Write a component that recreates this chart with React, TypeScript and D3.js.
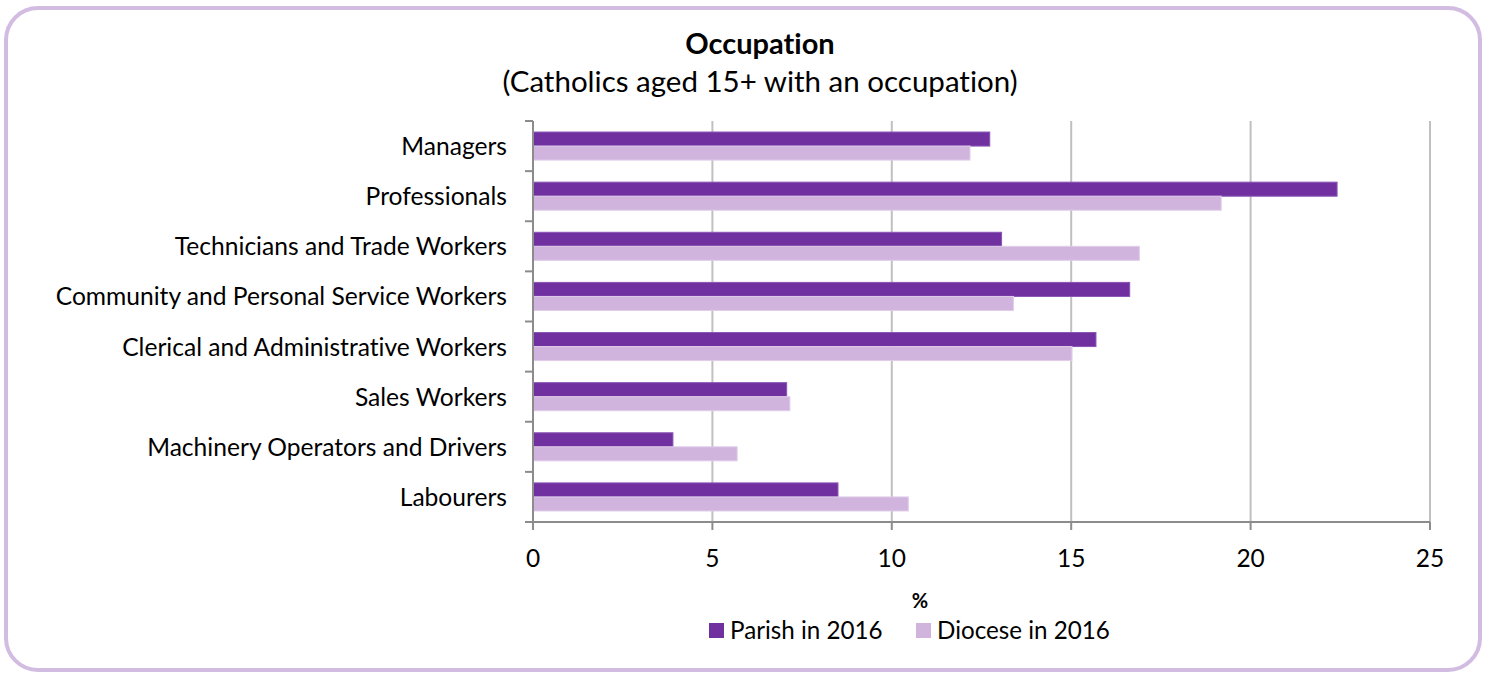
import React, { useRef, useEffect } from 'react'
import * as d3 from 'd3'

const categories = [
  'Managers',
  'Professionals',
  'Technicians and Trade Workers',
  'Community and Personal Service Workers',
  'Clerical and Administrative Workers',
  'Sales Workers',
  'Machinery Operators and Drivers',
  'Labourers',
]
const parish2016 = [12.73, 22.41, 13.06, 16.63, 15.69, 7.07, 3.9, 8.5]
const diocese2016 = [12.18, 19.18, 16.9, 13.39, 15.02, 7.16, 5.69, 10.46]
const xTicks = [0, 5, 10, 15, 20, 25]
const seriesNames = ['Parish in 2016', 'Diocese in 2016']

const W = 1486
const H = 675
const FONT = 'Lato, "Open Sans", sans-serif'
const PARISH = '#7030a0'
const DIOCESE = '#d0b4de'

const App = () => {
  const ref = useRef<SVGSVGElement>(null)

  useEffect(() => {
    const svg = d3.select(ref.current)
    svg.selectAll('*').remove()

    // outer rounded frame
    svg.append('rect')
      .attr('x', 6).attr('y', 8)
      .attr('width', 1474).attr('height', 662)
      .attr('rx', 32)
      .attr('fill', '#fff')
      .attr('stroke', '#d2bce2')
      .attr('stroke-width', 4)

    const left = 533, right = 1430, top = 121, bottom = 522

    const x = d3.scaleLinear().domain([0, 25]).range([left, right])
    const y = d3.scaleBand().domain(categories).range([top, bottom]).padding(0)

    const g = svg.append('g')

    // gridlines
    g.selectAll('.grid')
      .data(xTicks.slice(1))
      .enter().append('line')
      .attr('x1', d => x(d)).attr('x2', d => x(d))
      .attr('y1', top).attr('y2', bottom)
      .attr('stroke', '#c0c0c0').attr('stroke-width', 2)

    const bh = y.bandwidth() * 0.28
    const off = (y.bandwidth() - 2 * bh) / 2

    // bars
    const series = [
      { vals: parish2016, color: PARISH, stroke: '#8a55b5' },
      { vals: diocese2016, color: DIOCESE, stroke: '#e0cdea' },
    ]
    series.forEach((s, si) => {
      g.selectAll('.bar' + si)
        .data(categories)
        .enter().append('rect')
        .attr('x', x(0))
        .attr('y', d => (y(d) as number) + off + si * bh)
        .attr('width', (d, i) => x(s.vals[i]) - x(0))
        .attr('height', bh)
        .attr('fill', s.color)
        .attr('stroke', s.stroke)
        .attr('stroke-width', 1)
    })

    // y axis
    g.append('line')
      .attr('x1', left).attr('x2', left)
      .attr('y1', top).attr('y2', bottom + 8)
      .attr('stroke', '#8c8c8c').attr('stroke-width', 2)
    const bounds = categories.map(c => y(c) as number).concat([bottom])
    g.selectAll('.ytick')
      .data(bounds)
      .enter().append('line')
      .attr('x1', left - 8).attr('x2', left)
      .attr('y1', d => d).attr('y2', d => d)
      .attr('stroke', '#8c8c8c').attr('stroke-width', 2)

    // x axis
    g.append('line')
      .attr('x1', left - 8).attr('x2', right)
      .attr('y1', bottom).attr('y2', bottom)
      .attr('stroke', '#8c8c8c').attr('stroke-width', 2)
    g.selectAll('.xtick')
      .data(xTicks)
      .enter().append('line')
      .attr('x1', d => x(d)).attr('x2', d => x(d))
      .attr('y1', bottom).attr('y2', bottom + 8)
      .attr('stroke', '#8c8c8c').attr('stroke-width', 2)

    g.selectAll('.xlabel')
      .data(xTicks)
      .enter().append('text')
      .attr('x', d => x(d)).attr('y', 567)
      .attr('text-anchor', 'middle')
      .attr('font-family', FONT).attr('font-size', 24.5)
      .attr('fill', '#000')
      .text(d => d)

    g.selectAll('.ylabel')
      .data(categories)
      .enter().append('text')
      .attr('x', 507)
      .attr('y', d => (y(d) as number) + y.bandwidth() / 2 + 9)
      .attr('text-anchor', 'end')
      .attr('font-family', FONT).attr('font-size', 24.6)
      .attr('fill', '#000')
      .text(d => d)

    // titles
    svg.append('text')
      .attr('x', 760).attr('y', 54)
      .attr('text-anchor', 'middle')
      .attr('font-family', FONT).attr('font-size', 29).attr('font-weight', 'bold')
      .text('Occupation')
    svg.append('text')
      .attr('x', 760).attr('y', 92)
      .attr('text-anchor', 'middle')
      .attr('font-family', FONT).attr('font-size', 29.5)
      .text('(Catholics aged 15+ with an occupation)')

    svg.append('text')
      .attr('x', 920).attr('y', 608)
      .attr('text-anchor', 'middle')
      .attr('font-family', FONT).attr('font-size', 20).attr('font-weight', 'bold')
      .text('%')

    // legend
    const legendX = [709, 916]
    seriesNames.forEach((name, i) => {
      svg.append('rect')
        .attr('x', legendX[i]).attr('y', 623)
        .attr('width', 15).attr('height', 15)
        .attr('fill', i === 0 ? PARISH : DIOCESE)
      svg.append('text')
        .attr('x', legendX[i] + 21).attr('y', 639)
        .attr('font-family', FONT).attr('font-size', 24.2)
        .text(name)
    })
  }, [])

  return (
    <svg
      ref={ref}
      width={W}
      height={H}
      style={{ display: 'block', position: 'absolute', left: 0, top: 0, fontVariantLigatures: 'none' }}
    />
  )
}

export default App
